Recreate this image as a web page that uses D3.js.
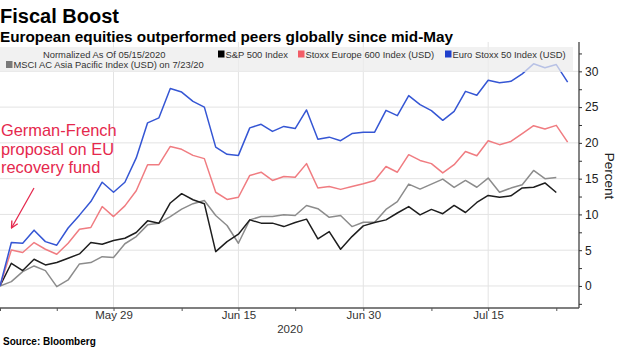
<!DOCTYPE html>
<html><head><meta charset="utf-8">
<script src="https://cdn.jsdelivr.net/npm/d3@7/dist/d3.min.js"></script>
<style>
body{margin:0;background:#fff}
svg{display:block;font-family:"Liberation Sans",Arial,sans-serif}
</style>
</head><body>
<svg id="c" width="620" height="348"></svg>
<script>
// ---- data ----
const dates = ["2020-05-15","2020-05-18","2020-05-19","2020-05-20","2020-05-21","2020-05-22",
"2020-05-25","2020-05-26","2020-05-27","2020-05-28","2020-05-29","2020-06-01","2020-06-02",
"2020-06-03","2020-06-04","2020-06-05","2020-06-08","2020-06-09","2020-06-10","2020-06-11",
"2020-06-12","2020-06-15","2020-06-16","2020-06-17","2020-06-18","2020-06-19","2020-06-22",
"2020-06-23","2020-06-24","2020-06-25","2020-06-26","2020-06-29","2020-06-30","2020-07-01",
"2020-07-02","2020-07-03","2020-07-06","2020-07-07","2020-07-08","2020-07-09","2020-07-10",
"2020-07-13","2020-07-14","2020-07-15","2020-07-16","2020-07-17","2020-07-20","2020-07-21",
"2020-07-22","2020-07-23","2020-07-24"];
const majorTickDates = ["2020-05-29","2020-06-15","2020-06-30","2020-07-15"];
const majorTickLabels = ["May 29","Jun 15","Jun 30","Jul 15"];
const minorTickDates = ["2020-05-15","2020-05-22","2020-06-08","2020-06-22","2020-07-08","2020-07-23"];
const yTickValues = [0,5,10,15,20,25,30];
const yMinorTicks = [-2.5,0,2.5,5,7.5,10,12.5,15,17.5,20,22.5,25,27.5,30,32.5];
const yDomain = [-3.08, 34.1];

const spx = [0,3.17,2.15,3.73,2.94,3.27,3.87,4.48,6.07,5.83,6.35,6.67,7.47,9.1,8.78,11.6,12.9,12.05,11.5,4.8,
 6.2,7.24,9.24,8.78,8.78,8.3,8.87,9.34,6.58,7.6,5.13,6.9,8.4,8.87,9.24,10.2,11.1,9.94,10.7,10.1,
 11.25,10.27,11.67,12.65,12.4,12.6,13.7,13.8,14.4,13.07];
const sxxp = [0,5.04,4.67,6.07,5.13,4.43,5.97,7.93,8.17,11.1,9.7,11.2,13.3,16.95,16.95,19.5,19.1,18.25,17.8,13.1,
 12.1,12.4,15.45,15.9,14.75,15.3,15.2,17.1,13.7,13.9,13.5,13.9,14.3,14.75,16.7,15.9,18.35,17.55,17.1,15.8,
 16.95,18.8,18.2,20.3,19.75,20.2,21.3,22.4,21.95,22.45,20.1];
const sx5e = [0,6.07,5.97,7.8,6.2,5.7,8.1,9.9,11.8,14.5,13.1,14.5,17.9,22.8,23.5,27.6,27.1,25.8,25.0,19.4,
 18.4,18.25,22.1,22.6,21.6,22.3,22.0,24.6,20.5,20.8,20.3,21.3,21.5,21.5,24.55,23.8,26.6,25.35,24.5,23.15,
 24.4,27.2,26.65,28.75,28.4,28.6,29.65,31.05,30.5,30.95,28.5];
const mxap = [0,0.6,2.0,2.8,2.15,-0.1,0.84,3.08,3.27,4.1,3.97,5.9,6.9,8.54,8.78,9.7,10.74,11.5,11.95,9.85,
 8.45,5.97,9.24,9.7,9.7,9.94,9.85,11.25,10.8,9.6,9.85,8.3,8.9,8.9,10.7,11.8,14.24,13.54,14.24,14.94,
 13.77,14.75,13.8,15.08,13.1,13.68,14.15,16.15,15.0,15.17];

const seriesNames = ["MSCI AC Asia Pacific Index (USD) on 7/23/20","S&P 500 Index","Stoxx Europe 600 Index (USD)","Euro Stoxx 50 Index (USD)"];
const seriesValues = [mxap, spx, sxxp, sx5e];
const lineColors = ["#8c8c8c","#1e1e1e","#f07c81","#3556d4"];
const swatchColors = ["#7a7a7a","#000000","#f25d67","#1f40cc"];

const titleText = "Fiscal Boost";
const subtitleText = "European equities outperformed peers globally since mid-May";
const normText = "Normalized As Of 05/15/2020";
const annotationLines = ["German-French","proposal on EU","recovery fund"];
const yearLabel = "2020";
const yAxisTitle = "Percent";
const sourceText = "Source: Bloomberg";

// ---- layout ----
const svg = d3.select("#c");
const plotL = 0, plotR = 579, plotT = 42, plotB = 308;
const idx = d => dates.indexOf(d);
const x = d3.scaleLinear().domain([0, dates.length]).range([plotL, plotR]);
const y = d3.scaleLinear().domain(yDomain).range([plotB, plotT]);

// gridlines
const grid = svg.append("g");
grid.selectAll("line.h").data(yTickValues).join("line")
  .attr("x1", plotL).attr("x2", plotR)
  .attr("y1", d => y(d)).attr("y2", d => y(d))
  .attr("stroke", "#e3e3e3").attr("stroke-width", 1);
grid.selectAll("line.v").data(majorTickDates).join("line")
  .attr("x1", d => x(idx(d))).attr("x2", d => x(idx(d)))
  .attr("y1", plotT).attr("y2", plotB)
  .attr("stroke", "#e3e3e3").attr("stroke-width", 1);

// lines
const line = d3.line().x((d, i) => x(i)).y(d => y(d));
svg.append("g").selectAll("path").data(seriesValues).join("path")
  .attr("d", d => line(d))
  .attr("fill", "none")
  .attr("stroke", (d, i) => lineColors[i])
  .attr("stroke-width", 1.5)
  .attr("stroke-linejoin", "round");

// legend band
svg.append("rect").attr("x", 0).attr("y", 47).attr("width", 573).attr("height", 25)
  .attr("fill", "#ececec").attr("opacity", 0.72);

const lg = svg.append("g").attr("font-size", 9.4).attr("fill", "#333");
lg.append("text").attr("x", 43).attr("y", 57.5).text(normText);
const legendPos = [[6, 68], [218, 57.5], [298, 57.5], [445, 57.5]];
seriesNames.forEach((n, i) => {
  const [lx, ly] = legendPos[i];
  lg.append("rect").attr("x", lx).attr("y", ly - 7).attr("width", 6.5).attr("height", 7)
    .attr("fill", swatchColors[i]);
  lg.append("text").attr("x", lx + 7.5).attr("y", ly).text(n);
});

// y axis (right)
const yAxis = d3.axisRight(y).tickValues(yMinorTicks).tickSize(3)
  .tickFormat(d => yTickValues.includes(d) ? d : "");
const ya = svg.append("g").attr("transform", `translate(${plotR},0)`).call(yAxis);
ya.select(".domain").attr("d", `M0,${plotT}V${plotB}`).attr("stroke", "#333").attr("stroke-width", 1.2);
ya.selectAll(".tick line").attr("stroke", "#333");
ya.selectAll(".tick text").attr("font-size", 12).attr("fill", "#222")
  .attr("font-family", "Liberation Sans, Arial, sans-serif").attr("x", 6);

svg.append("text").attr("transform", `translate(605,176) rotate(90)`)
  .attr("text-anchor", "middle").attr("font-size", 13.5).attr("fill", "#222").text(yAxisTitle);

// x axis
const xa = svg.append("g").attr("transform", `translate(0,${plotB})`);
xa.append("line").attr("x1", plotL).attr("x2", plotR).attr("stroke", "#555").attr("stroke-width", 1.5);
const xMajor = d3.axisBottom(x).tickValues(majorTickDates.map(idx)).tickSize(3)
  .tickFormat((d, i) => majorTickLabels[i]);
const xm = xa.append("g").call(xMajor);
xm.select(".domain").remove();
xm.selectAll(".tick line").attr("stroke", "#555");
xm.selectAll(".tick text").attr("font-size", 11.5).attr("fill", "#333")
  .attr("font-family", "Liberation Sans, Arial, sans-serif").attr("dy", "0.55em").attr("y", 5);
const xMinor = d3.axisBottom(x).tickValues(minorTickDates.map(idx)).tickSize(3).tickFormat("");
const xn = xa.append("g").call(xMinor);
xn.select(".domain").remove();
xn.selectAll(".tick line").attr("stroke", "#555");

svg.append("text").attr("x", 290).attr("y", 333).attr("text-anchor", "middle")
  .attr("font-size", 11.5).attr("fill", "#333").text(yearLabel);

// titles
svg.append("text").attr("x", 0).attr("y", 23).attr("font-size", 20).attr("font-weight", "bold")
  .attr("fill", "#000").text(titleText);
svg.append("text").attr("x", 0).attr("y", 42).attr("font-size", 15.3).attr("font-weight", "bold")
  .attr("fill", "#000").text(subtitleText);
svg.append("text").attr("x", 3).attr("y", 345).attr("font-size", 10).attr("font-weight", "bold")
  .attr("fill", "#000").text(sourceText);

// annotation
const annColor = "#e5284d";
const ann = svg.append("g").attr("fill", annColor).attr("font-size", 16.4);
annotationLines.forEach((t, i) => ann.append("text").attr("x", 1).attr("y", 136 + i * 18.7).text(t));
svg.append("defs").append("marker").attr("id", "ah").attr("viewBox", "0 0 10 10")
  .attr("refX", 9).attr("refY", 5).attr("markerWidth", 7).attr("markerHeight", 7)
  .attr("orient", "auto")
  .append("path").attr("d", "M1,1L9,5L1,9").attr("fill", "none").attr("stroke", annColor).attr("stroke-width", 1.6);
svg.append("line").attr("x1", 34).attr("y1", 188).attr("x2", 11.5).attr("y2", 228)
  .attr("stroke", annColor).attr("stroke-width", 1.2).attr("marker-end", "url(#ah)");
</script>
</body></html>
